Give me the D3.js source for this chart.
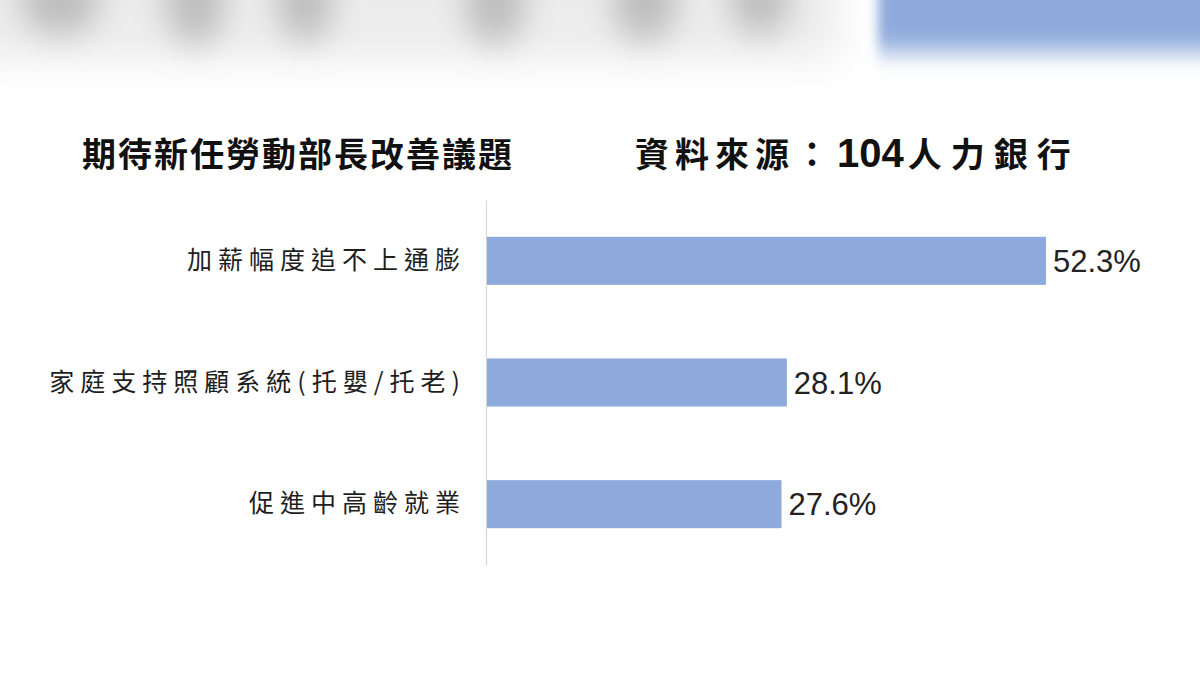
<!DOCTYPE html>
<html>
<head>
<meta charset="utf-8">
<script src="https://cdn.jsdelivr.net/npm/d3@7/dist/d3.min.js"></script>
<style>
  html, body { margin: 0; padding: 0; background: #ffffff; }
  svg { display: block; }
</style>
</head>
<body>
<svg id="chart" width="1200" height="675"></svg>
<script>
// ---- data ----
const categories = ["加薪幅度追不上通膨", "家庭支持照顧系統(托嬰/托老)", "促進中高齡就業"];
const values = [52.3, 28.1, 27.6];
const valueLabels = ["52.3%", "28.1%", "27.6%"];
const titleLeft = "期待新任勞動部長改善議題";
const titleRightA = "資料來源：";
const titleRightNum = "104";
const titleRightB = "人力銀行";

const svg = d3.select("#chart");

// ---- blurred photo background artefacts ----
const defs = svg.append("defs");
defs.append("filter").attr("id", "blurBig").attr("x", "-50%").attr("y", "-50%").attr("width", "200%").attr("height", "200%")
  .append("feGaussianBlur").attr("stdDeviation", 20);
defs.append("filter").attr("id", "blurMid").attr("x", "-50%").attr("y", "-50%").attr("width", "200%").attr("height", "200%")
  .append("feGaussianBlur").attr("stdDeviation", 16);
defs.append("filter").attr("id", "blurBlue").attr("x", "-50%").attr("y", "-50%").attr("width", "200%").attr("height", "200%")
  .append("feGaussianBlur").attr("stdDeviation", "6 12");

const bg = svg.append("g").attr("class", "background");
bg.append("rect").attr("x", -40).attr("y", -60).attr("width", 880).attr("height", 120)
  .attr("fill", "#ececec").attr("filter", "url(#blurBig)");
const blobs = [[195, 0, 30, 45], [305, 0, 28, 42], [495, 0, 30, 45], [645, 0, 32, 42], [60, 0, 40, 35], [760, 0, 30, 35]];
blobs.forEach(b => {
  bg.append("ellipse").attr("cx", b[0]).attr("cy", b[1]).attr("rx", b[2]).attr("ry", b[3])
    .attr("fill", "#bdbdbd").attr("filter", "url(#blurMid)");
});
bg.append("rect").attr("x", 878).attr("y", -30).attr("width", 360).attr("height", 82)
  .attr("fill", "#8eaadc").attr("filter", "url(#blurBlue)");

// ---- scales ----
const x = d3.scaleLinear().domain([0, 60]).range([486, 486 + 60 * 10.707]);
const y = d3.scaleBand().domain(categories).range([200, 565]).paddingInner(0.605).paddingOuter(0.3025);

// ---- title ----
svg.append("text")
  .attr("x", 82).attr("y", 167)
  .attr("font-family", "'Noto Sans CJK TC', 'Noto Sans CJK SC', sans-serif")
  .attr("font-size", 34).attr("font-weight", 700)
  .attr("letter-spacing", 2)
  .attr("fill", "#111")
  .text(titleLeft);

const t2 = svg.append("text")
  .attr("x", 635).attr("y", 167)
  .attr("font-family", "'Noto Sans CJK TC', 'Noto Sans CJK SC', sans-serif")
  .attr("font-size", 34).attr("font-weight", 700)
  .attr("fill", "#111");
t2.append("tspan").attr("letter-spacing", 6).text(titleRightA);
t2.append("tspan").attr("dx", 2)
  .attr("font-family", "'Liberation Sans', Arial, sans-serif")
  .attr("font-size", 40).attr("font-weight", 700).text(titleRightNum);
t2.append("tspan").attr("dx", 4).attr("letter-spacing", 9).text(titleRightB);

// ---- axis with category labels ----
const axis = d3.axisLeft(y).tickSize(0).tickSizeOuter(0).tickPadding(20);
const gAxis = svg.append("g").attr("transform", `translate(${x(0)},0)`).call(axis);
gAxis.select(".domain").attr("stroke", "#d9d9d9").attr("stroke-width", 1.2);
gAxis.selectAll(".tick text")
  .attr("font-family", "'Noto Sans CJK TC', 'Noto Sans CJK SC', sans-serif")
  .attr("font-size", 25)
  .attr("letter-spacing", 6)
  .attr("fill", "#1e1e1e");

// ---- bars ----
svg.append("g").selectAll("rect")
  .data(categories)
  .join("rect")
  .attr("x", x(0) + 1)
  .attr("y", d => y(d))
  .attr("width", (d, i) => x(values[i]) - x(0) - 1)
  .attr("height", y.bandwidth())
  .attr("fill", "#8eaadc");

// ---- value labels ----
svg.append("g").selectAll("text")
  .data(categories)
  .join("text")
  .attr("x", (d, i) => x(values[i]) + 7)
  .attr("y", d => y(d) + y.bandwidth() / 2)
  .attr("dy", "0.36em")
  .attr("font-family", "'Liberation Sans', Arial, sans-serif")
  .attr("font-size", 31)
  .attr("fill", "#222")
  .text((d, i) => valueLabels[i]);
</script>
</body>
</html>
